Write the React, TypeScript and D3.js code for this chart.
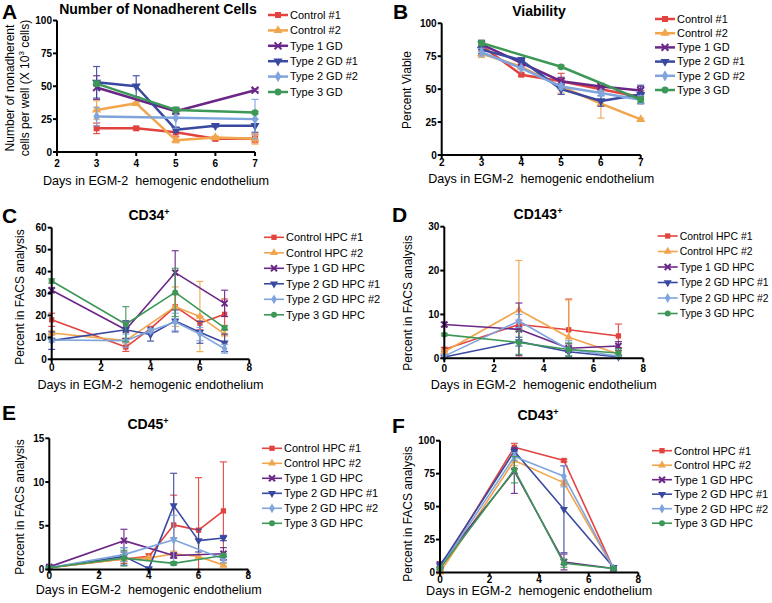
import React from 'react';
import * as d3 from 'd3';

// series colours (Control #1, Control #2, Type 1, Type 2 #1, Type 2 #2, Type 3)
const colors = ['#e2433f', '#f1a54c', '#6a2787', '#3a49a0', '#7fa5dc', '#3d9858'];
const namesAB = ['Control #1', 'Control #2', 'Type 1 GD', 'Type 2 GD #1', 'Type 2 GD #2', 'Type 3 GD'];
const namesHPC = ['Control HPC #1', 'Control HPC #2', 'Type 1 GD HPC', 'Type 2 GD HPC #1', 'Type 2 GD HPC #2', 'Type 3 GD HPC'];

type V = number | null;

// A - number of nonadherent cells (x 10^3)
const daysAB = [3, 4, 5, 6, 7];
const nonadherent: V[][] = [
  [18, 18, 15, 10, 10],
  [32, 37, 9, 11, 10],
  [49, null, 31, null, 47],
  [53, 50, 17, 20, 20],
  [27, null, 26, null, 25],
  [52, null, 32, null, 30],
];
const nonadherentErr: V[][] = [
  [4, 1, 3, 1, 3],
  [7, 1, 2, 1, 4],
  [9, null, 2, null, 1],
  [12, 8, 2, 1, 5],
  [7, null, 8, null, 15],
  [2, null, 2, null, 1],
];

// B - viability
const viability: V[][] = [
  [83, 61, 56, 50, 44],
  [77, 67, 52, 39, 27],
  [84, 70, 56, 52, 49],
  [80, 72, 50, 41, 46],
  [78, 66, 52, 47, 42],
  [85, null, 67, null, 42],
];
const viabilityErr: V[][] = [
  [4, 1, 6, 1, 5],
  [3, 1, 5, 11, 1],
  [3, 1, 3, 1, 3],
  [3, 2, 4, 4, 7],
  [3, null, 2, 2, 3],
  [2, null, 1, null, 2],
];

// C - CD34+
const daysC = [0, 3, 4, 5, 6, 7];
const cd34: V[][] = [
  [18, 5.6, 14, 24, 16.5, 20.5],
  [12, 8.5, null, 24, 19.5, 11.5],
  [31.5, 13.5, null, 39.5, null, 25.5],
  [8.5, 13.5, 11.3, 17.5, 12.3, 7.5],
  [8.8, 8.5, 13, 17, 11.5, 4.8],
  [35.7, 16, null, 30.5, null, 14.3],
];
const cd34Err: V[][] = [
  [3, 2, 1, 6, 3, 7],
  [1, 1, null, 9, 16, 4],
  [1, 4, null, 10, null, 6],
  [4, 4, 3, 5, 5, 4],
  [1, 3, 1, 4, 3, 2],
  [1, 8, null, 11, null, 1],
];

// D - CD143+
const daysD = [0, 3, 5, 7];
const cd143: V[][] = [
  [2, 7.7, 6.5, 5.1],
  [1.5, 11, 4.8, 1],
  [7.7, 6.6, 2.3, 2.8],
  [0.3, 3.8, 1.5, 0.3],
  [0.5, 8.5, 2, 0.5],
  [5.4, 3.6, 2, 1.2],
];
const cd143Err: V[][] = [
  [0.5, 1, 7, 2.7],
  [0.5, 11.3, 8.5, 0.5],
  [0.5, 6, 1, 1],
  [0.3, 1, 1, 0.3],
  [0.3, 1.5, 2, 0.3],
  [0.3, 2.7, 1.5, 1],
];

// E - CD45+
const daysE = [0, 3, 4, 5, 6, 7];
const cd45: V[][] = [
  [0.2, 1.2, 1.5, 5.1, 4.5, 6.7],
  [0.2, 1.2, 1.3, 1.8, 1.5, 0.5],
  [0.3, 3.3, null, 1.6, null, 1.8],
  [0.2, 1.5, 0.1, 7.3, 3.3, 3.6],
  [0.2, 1.7, null, 3.4, null, 1.2],
  [0.2, 1.3, null, 0.7, null, 1.6],
];
const cd45Err: V[][] = [
  [0.1, 0.5, 0.3, 3.4, 6, 5.6],
  [0.1, 0.3, 0.2, 0.3, 0.2, 0.2],
  [0.1, 1.3, null, 0.3, null, 0.7],
  [0.1, 1, 0.1, 3.7, 1.3, 0.3],
  [0.1, 0.8, null, 2.8, null, 0.4],
  [0.1, 0.9, null, 0.2, null, 0.2],
];

// F - CD43+
const daysF = [0, 3, 5, 7];
const cd43: V[][] = [
  [3, 95, 85, 3],
  [0, 85, 68, 3],
  [6, 77, 8, 3],
  [5, 92, 48, 4],
  [3, 88, 73, 3],
  [3, 78, 7, 3],
];
const cd43Err: V[][] = [
  [1, 3, 1, 1],
  [1, 4, 2, 1],
  [2, 17, 6, 1],
  [2, 3, 33, 1],
  [1, 3, 8, 1],
  [1, 10, 3, 1],
];

const font = 'Liberation Sans, Arial, Helvetica, sans-serif';

function markerPath(i: number, size: number) {
  const types = [d3.symbolSquare, d3.symbolTriangle, d3.symbolTimes, d3.symbolTriangle, d3.symbolDiamond, d3.symbolCircle];
  return d3.symbol(types[i], size)() || '';
}

interface PanelProps {
  letter: string;
  letterX: number;
  letterY: number;
  title: React.ReactNode;
  titleX: number;
  titleY: number;
  xDomain: [number, number];
  xRange: [number, number];
  yDomain: [number, number];
  yRange: [number, number];
  xTicks: number[];
  yTicks: number[];
  xTickDy: number;
  days: number[];
  values: V[][];
  errors: V[][];
  names: string[];
  legendX: number;
  legendY: number;
  legendStep: number;
  legendFont: number;
  lineW: number;
  mSize: number;
  yLabel: React.ReactNode[];
  yLabelX: number[];
  yLabelY: number;
  xLabelY: number;
}

function Marker({ i, x, y, size }: { i: number; x: number; y: number; size: number }) {
  if (i === 2) {
    return (
      <path d={markerPath(i, size * 0.9)} transform={`translate(${x},${y})`} fill="none" stroke={colors[i]} strokeWidth={2} />
    );
  }
  const rot = i === 3 ? 180 : 0;
  return <path d={markerPath(i, size)} transform={`translate(${x},${y}) rotate(${rot})`} fill={colors[i]} />;
}

function Panel(p: PanelProps) {
  const x = d3.scaleLinear().domain(p.xDomain).range(p.xRange);
  const y = d3.scaleLinear().domain(p.yDomain).range(p.yRange);
  const x0 = p.xRange[0];
  const y0 = p.yRange[0];
  const line = d3
    .line<[number, V]>()
    .defined((d) => d[1] !== null)
    .x((d) => x(d[0]))
    .y((d) => y(d[1] as number));

  return (
    <g fontFamily={font}>
      <text x={p.letterX} y={p.letterY} fontSize={21} fontWeight="bold">{p.letter}</text>
      <text x={p.titleX} y={p.titleY} fontSize={14} fontWeight="bold" textAnchor="middle">{p.title}</text>

      {/* series */}
      {p.values.map((vals, i) => {
        const pts = p.days.map((d, k) => [d, vals[k]] as [number, V]).filter((d) => d[1] !== null);
        return (
          <g key={i}>
            {pts.map(([d, v], k) => {
              const e = p.errors[i][p.days.indexOf(d)];
              if (!e) return null;
              const top = y(Math.min((v as number) + e, p.yDomain[1]));
              const bot = y(Math.max((v as number) - e, p.yDomain[0]));
              const cx = x(d);
              return (
                <g key={k} stroke={colors[i]} strokeWidth={1.2} opacity={0.9}>
                  <line x1={cx} x2={cx} y1={top} y2={bot} />
                  <line x1={cx - 3.5} x2={cx + 3.5} y1={top} y2={top} />
                  <line x1={cx - 3.5} x2={cx + 3.5} y1={bot} y2={bot} />
                </g>
              );
            })}
            <path d={line(pts) || ''} fill="none" stroke={colors[i]} strokeWidth={p.lineW} strokeLinejoin="round" />
            {pts.map(([d, v], k) => (
              <Marker key={k} i={i} x={x(d)} y={y(v as number)} size={p.mSize} />
            ))}
          </g>
        );
      })}

      {/* axes */}
      <line x1={x0} x2={x0} y1={y0 + 1} y2={p.yRange[1]} stroke="#000" strokeWidth={2} />
      <line x1={x0 - 1} x2={p.xRange[1]} y1={y0} y2={y0} stroke="#000" strokeWidth={2} />
      {p.yTicks.map((t) => (
        <g key={t}>
          <line x1={x0 - 4} x2={x0} y1={y(t)} y2={y(t)} stroke="#000" strokeWidth={2} />
          <text x={x0 - 5} y={y(t)} dy="0.35em" fontSize={10} fontWeight="bold" textAnchor="end">{t}</text>
        </g>
      ))}
      {p.xTicks.map((t) => (
        <g key={t}>
          <line x1={x(t)} x2={x(t)} y1={y0} y2={y0 + 4} stroke="#000" strokeWidth={2} />
          <text x={x(t)} y={y0 + p.xTickDy} fontSize={10} fontWeight="bold" textAnchor="middle">{t}</text>
        </g>
      ))}
      <text x={(p.xRange[0] + p.xRange[1]) / 2} y={p.xLabelY} fontSize={12.6} textAnchor="middle">
        {'Days in EGM-2\u00a0 hemogenic endothelium'}
      </text>
      {p.yLabel.map((lab, k) => (
        <text key={k} transform={`translate(${p.yLabelX[k]},${p.yLabelY}) rotate(-90)`} fontSize={12} textAnchor="middle" dy="0.35em">
          {lab}
        </text>
      ))}

      {/* legend */}
      {p.names.map((n, i) => {
        const ly = p.legendY + i * p.legendStep;
        return (
          <g key={n}>
            <line x1={p.legendX} x2={p.legendX + 20} y1={ly} y2={ly} stroke={colors[i]} strokeWidth={p.lineW} />
            <Marker i={i} x={p.legendX + 10} y={ly} size={p.mSize} />
            <text x={p.legendX + 22} y={ly} dy="0.35em" fontSize={p.legendFont}>{n}</text>
          </g>
        );
      })}
    </g>
  );
}

const sup = (base: string, s: string) => (
  <>
    {base}
    <tspan dy={-5} fontSize={9}>{s}</tspan>
  </>
);

export default function App() {
  return (
    <div style={{ position: 'absolute', left: 0, top: 0 }}>
      <svg width={772} height={603} style={{ display: 'block', background: '#fff' }}>
        <Panel
          letter="A" letterX={2} letterY={19}
          title="Number of Nonadherent Cells" titleX={158} titleY={14}
          xDomain={[2, 7]} xRange={[57, 255]} yDomain={[0, 100]} yRange={[152, 20.5]}
          xTicks={[2, 3, 4, 5, 6, 7]} yTicks={[0, 25, 50, 75, 100]} xTickDy={15}
          days={daysAB} values={nonadherent} errors={nonadherentErr} names={namesAB}
          legendX={268} legendY={15} legendStep={15.4} legendFont={11} lineW={2.5} mSize={36}
          yLabel={['Number of nonadherent', <>cells per well (X 10<tspan dy={-5} fontSize={8}>3</tspan><tspan dy={5}> cells)</tspan></>]}
          yLabelX={[10, 25]} yLabelY={88} xLabelY={184.5}
        />
        <Panel
          letter="B" letterX={393} letterY={19}
          title="Viability" titleX={539} titleY={16}
          xDomain={[2, 7]} xRange={[441.7, 640.7]} yDomain={[0, 100]} yRange={[155, 23.3]}
          xTicks={[2, 3, 4, 5, 6, 7]} yTicks={[0, 25, 50, 75, 100]} xTickDy={11}
          days={daysAB} values={viability} errors={viabilityErr} names={namesAB}
          legendX={655} legendY={19} legendStep={14.2} legendFont={11} lineW={2.5} mSize={36}
          yLabel={['Percent Viable']} yLabelX={[407]} yLabelY={90} xLabelY={183}
        />
        <Panel
          letter="C" letterX={2} letterY={223}
          title={sup('CD34', '+')} titleX={149} titleY={220}
          xDomain={[0, 8]} xRange={[51.7, 249.3]} yDomain={[0, 60]} yRange={[359.3, 227.7]}
          xTicks={[0, 2, 4, 6, 8]} yTicks={[0, 10, 20, 30, 40, 50, 60]} xTickDy={11.5}
          days={daysC} values={cd34} errors={cd34Err} names={namesHPC}
          legendX={264} legendY={237.3} legendStep={15.5} legendFont={11} lineW={1.6} mSize={28}
          yLabel={['Percent in FACS analysis']} yLabelX={[20]} yLabelY={297} xLabelY={389}
        />
        <Panel
          letter="D" letterX={392} letterY={222}
          title={sup('CD143', '+')} titleX={538} titleY={219}
          xDomain={[0, 8]} xRange={[444.3, 643.3]} yDomain={[0, 30]} yRange={[358.3, 226.7]}
          xTicks={[0, 2, 4, 6, 8]} yTicks={[0, 10, 20, 30]} xTickDy={13.5}
          days={daysD} values={cd143} errors={cd143Err} names={namesHPC}
          legendX={657.7} legendY={236} legendStep={15.5} legendFont={10.4} lineW={1.6} mSize={28}
          yLabel={['Percent in FACS analysis']} yLabelX={[408]} yLabelY={303} xLabelY={389}
        />
        <Panel
          letter="E" letterX={2} letterY={420}
          title={sup('CD45', '+')} titleX={148} titleY={429}
          xDomain={[0, 8]} xRange={[49.3, 248.3]} yDomain={[0, 15]} yRange={[569.5, 438.3]}
          xTicks={[0, 2, 4, 6, 8]} yTicks={[0, 5, 10, 15]} xTickDy={9}
          days={daysE} values={cd45} errors={cd45Err} names={namesHPC}
          legendX={262} legendY={448.3} legendStep={15} legendFont={11} lineW={1.6} mSize={28}
          yLabel={['Percent in FACS analysis']} yLabelX={[20]} yLabelY={507} xLabelY={594}
        />
        <Panel
          letter="F" letterX={392} letterY={433}
          title={sup('CD43', '+')} titleX={538} titleY={420}
          xDomain={[0, 8]} xRange={[440, 638.3]} yDomain={[0, 100]} yRange={[572.5, 440.7]}
          xTicks={[0, 2, 4, 6, 8]} yTicks={[0, 25, 50, 75, 100]} xTickDy={10}
          days={daysF} values={cd43} errors={cd43Err} names={namesHPC}
          legendX={652} legendY={450.7} legendStep={14.5} legendFont={11} lineW={1.6} mSize={28}
          yLabel={['Percent in FACS analysis']} yLabelX={[408]} yLabelY={514} xLabelY={595}
        />
      </svg>
    </div>
  );
}
